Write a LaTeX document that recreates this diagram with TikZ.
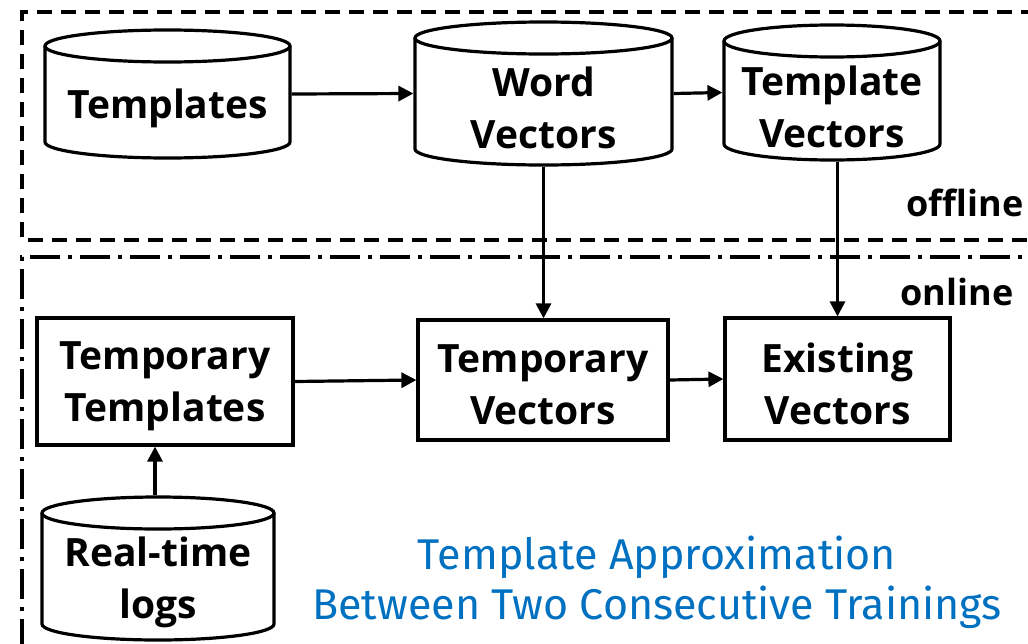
\documentclass[tikz,border=0pt]{standalone}
\usepackage{fontspec}
\setmainfont{Open Sans}
\newfontfamily\notefont{Fira Sans}
\usetikzlibrary{arrows.meta}
\definecolor{noteblue}{RGB}{0,112,192}

% cylinder: name, left, top, right, bottom (top/bottom as positive depths), text
\newcommand\cylnode[6]{%
  \pgfmathsetmacro\cylL{#2}\pgfmathsetmacro\cylT{#3}%
  \pgfmathsetmacro\cylR{#4}\pgfmathsetmacro\cylB{#5}%
  \pgfmathsetmacro\cylX{(\cylL+\cylR)/2}\pgfmathsetmacro\cylRX{(\cylR-\cylL)/2}%
  \node[inner sep=0pt, minimum width={\cylR-\cylL}, minimum height={\cylB-\cylT}]
    (#1) at (\cylX,{-(\cylT+\cylB)/2}) {};
  \draw[cylline] (\cylX,{-\cylT-\cylRY}) ellipse [x radius=\cylRX, y radius=\cylRY];
  \draw[cylline] (\cylL,{-\cylT-\cylRY}) -- (\cylL,{-\cylB+\cylRY})
     arc [start angle=180, end angle=360, x radius=\cylRX, y radius=\cylRY]
     -- (\cylR,{-\cylT-\cylRY});
  \node[lbl] (#1-text) at (\cylX,{-(\cylT+\cylB)/2-14}) {#6};
}
\def\cylRY{16}

\begin{document}
\begin{tikzpicture}[x=1pt, y=1pt, line width=3.2pt,
  lbl/.style={font=\bfseries\fontsize{39}{52}\selectfont, align=center, inner sep=0pt},
  cylline/.style={line width=3.2pt},
  box/.style={draw, rectangle, lbl, line width=3.2pt},
  boxtext/.style={lbl, yshift=-5pt},
  arr/.style={-{Triangle[length=15pt, width=15pt]}, line width=3.2pt},
  offzone/.style={line width=3.2pt, dash pattern=on 15pt off 9pt},
  onzone/.style={line width=3.2pt, dash pattern=on 30pt off 8pt on 4pt off 8pt},
  zonelbl/.style={font=\bfseries\fontsize{36}{44}\selectfont, inner sep=0pt},
  note/.style={font=\notefont\fontsize{43}{50}\selectfont, text=noteblue, align=center, inner sep=0pt}]
\clip (0,0) rectangle (1028,-643);

% processing zones
\draw[offzone] (1060,-12) -- (22,-12) -- (22,-240) -- (1060,-240);
\draw[onzone] (1060,-257) -- (22,-257) -- (22,-680);
\node[zonelbl, anchor=east] (offline) at (1025,-203) {offline};
\node[zonelbl, anchor=east] (online) at (1015,-292) {online};

% stored data
\cylnode{tpl}{45}{30}{290}{158}{Templates}
\cylnode{wv}{415}{22}{672}{165}{Word\\Vectors}
\cylnode{tv}{724}{25}{940}{160}{Template\\Vectors}
\cylnode{logs}{42}{497}{274}{640}{Real-time\\logs}

% online steps
\node[box, minimum width=256, minimum height=127] (ttmp) at (165,-381.5) {};
\node[boxtext] (ttmp-text) at (ttmp) {Temporary\\Templates};
\node[box, minimum width=250, minimum height=120] (tvec) at (543,-380) {};
\node[boxtext] (tvec-text) at (tvec) {Temporary\\Vectors};
\node[box, minimum width=225, minimum height=122] (evec) at (837.5,-379) {};
\node[boxtext] (evec-text) at (evec) {Existing\\Vectors};

% connectors
\draw[arr] (tpl.east) -- (wv.west);
\draw[arr] (wv.east) -- (tv.west);
\draw[arr] (wv.south) -- (wv.south |- tvec.north);
\draw[arr] (evec.north |- tv.south) -- (evec.north);
\draw[arr] (ttmp.east) -- (tvec.west);
\draw[arr] (tvec.east) -- (evec.west);
\draw[arr] (logs.north -| 155,0) -- (ttmp.south -| 155,0);

\node[note] (caption) at (657,-582) {Template Approximation\\Between Two Consecutive Trainings};
\end{tikzpicture}
\end{document}
